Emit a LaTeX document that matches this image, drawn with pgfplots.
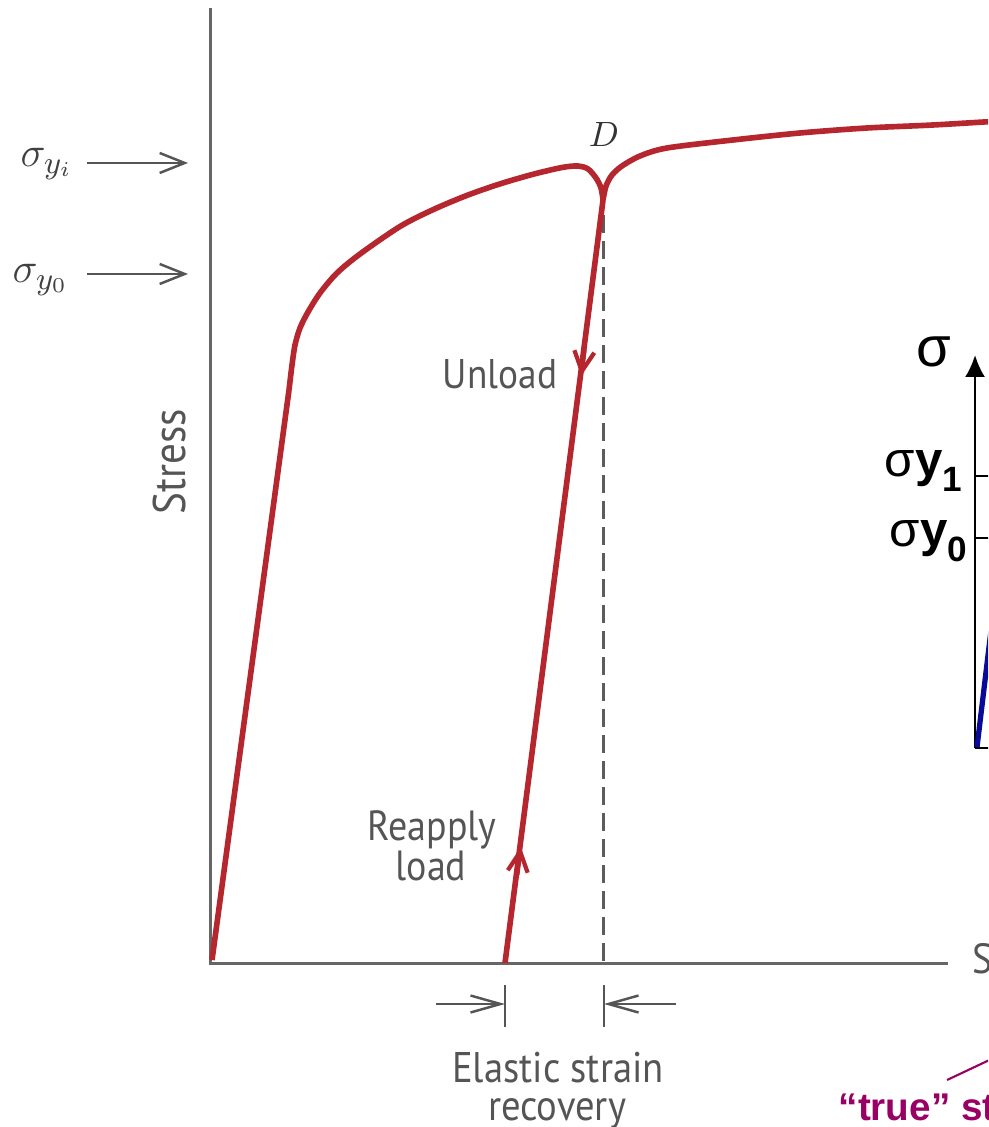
\documentclass[border=0pt]{standalone}
\usepackage{pgfplots}
\pgfplotsset{compat=1.18}
\usepackage{fontspec}
\setmainfont[FakeStretch=0.9]{PT Sans}
\newfontfamily\insetfont{Liberation Sans}
\usetikzlibrary{arrows.meta}

\definecolor{curvered}{HTML}{B5262E}
\definecolor{labgray}{HTML}{555555}
\definecolor{axgray}{HTML}{666666}
\definecolor{trueblue}{HTML}{0A0A99}
\definecolor{truepurple}{HTML}{990066}

\begin{document}
\begin{tikzpicture}
\useasboundingbox (0,0) rectangle (9.88,11.27);
\clip (0,0) rectangle (9.88,11.27);
\begin{axis}[
    at={(0,0)}, anchor=south west,
    scale only axis, width=9.88cm, height=11.27cm,
    xmin=0, xmax=988, ymin=0, ymax=1127,
    y dir=reverse,
    axis lines=none,
    clip=false,
]

% main axes
\addplot[axgray, line width=0.85pt] coordinates {(210,8)(210,963)(948,963)};

% elastic strain recovery (dashed)
\addplot[axgray!90!black, line width=0.85pt, dash pattern=on 0.18cm off 0.08cm]
    coordinates {(603,215)(603,963)};

% first loading: elastic part
\addplot[curvered, line width=1.6pt] coordinates {(212,960)(289,390)};
% first loading: plastic part up to D
\addplot[curvered, line width=1.6pt, smooth, tension=0.5] coordinates {
    (289,390)(292,365)(295,345)(300,328)(308,312)(320,293)(337,273)
    (360,254)(400,226.5)(433,209.7)(467,195.4)(500,183.9)(533,174.3)
    (562,167.5)(578,166)(588,169)(596,178)(601,188)(603,200)
};
% reloading past D
\addplot[curvered, line width=1.6pt, smooth, tension=0.5] coordinates {
    (603,200)(606,186)(612,175)(622,166)(640,156)(667,148)(733,140)
    (800,133)(867,128)(933,125)(1000,121)
};
% unload / reapply line
\addplot[curvered, line width=1.6pt] coordinates {(603,200)(505,963)};
\addplot[curvered, line width=1.2pt, -{Straight Barb[length=0.2cm,width=0.2cm]}]
    coordinates {(584.5,350)(581.2,376)};
\addplot[curvered, line width=1.2pt, -{Straight Barb[length=0.2cm,width=0.2cm]}]
    coordinates {(517.3,875)(520.8,847)};

% yield stress arrows
\addplot[labgray, line width=0.7pt, -{Straight Barb[length=0.25cm,width=0.2cm]}]
    coordinates {(87,163)(188,163)};
\addplot[labgray, line width=0.7pt, -{Straight Barb[length=0.25cm,width=0.2cm]}]
    coordinates {(87,274)(188,274)};

% elastic strain recovery markers
\addplot[labgray, line width=0.7pt] coordinates {(505,985)(505,1027)};
\addplot[labgray, line width=0.7pt] coordinates {(604,985)(604,1027)};
\addplot[labgray, line width=0.7pt, -{Straight Barb[length=0.3cm,width=0.17cm]}]
    coordinates {(436,1004)(505,1004)};
\addplot[labgray, line width=0.7pt, -{Straight Barb[length=0.3cm,width=0.17cm]}]
    coordinates {(676,1004)(604,1004)};

% inset diagram (cut off at right edge)
\addplot[black, line width=0.7pt, -{Latex[length=0.22cm,width=0.2cm]}]
    coordinates {(975,748)(975,355)};
\addplot[black, line width=0.6pt] coordinates {(975,476)(992,476)};
\addplot[black, line width=0.6pt] coordinates {(975,538)(992,538)};
\addplot[black, line width=0.6pt] coordinates {(975,748)(992,748)};
\addplot[trueblue, line width=1.5pt] coordinates {(977,747)(1000,555)};
\addplot[truepurple, line width=0.6pt] coordinates {(947,1080)(1000,1055)};

% labels
\node[labgray, anchor=base, font=\fontsize{11.8}{14}\selectfont] at (axis cs:500,389) {Unload};
\node[labgray, anchor=base, font=\fontsize{12}{14}\selectfont] at (axis cs:432,840) {Reapply};
\node[labgray, anchor=base, font=\fontsize{12}{14}\selectfont] at (axis cs:431,880) {load};
\node[labgray, anchor=base, font=\fontsize{12.2}{14}\selectfont] at (axis cs:558,1082) {Elastic strain};
\node[labgray, anchor=base, font=\fontsize{12.2}{14}\selectfont] at (axis cs:557,1120) {recovery};
\node[labgray, anchor=base, rotate=90, font=\fontsize{13}{15}\selectfont] at (axis cs:185,462) {Stress};
\node[labgray, anchor=base west, inner sep=0pt, font=\fontsize{12}{14}\selectfont] at (axis cs:972,973) {Strain};
\node[text=black!80, anchor=base, font=\fontsize{10}{12}\selectfont] at (axis cs:604,147) {$D$};
\node[text=black!75, anchor=base west, inner sep=0pt, font=\fontsize{12.5}{14}\selectfont] at (axis cs:20,167) {$\sigma_{y_i}$};
\node[text=black!75, anchor=base west, inner sep=0pt, font=\fontsize{12.5}{14}\selectfont] at (axis cs:12,283) {$\sigma_{y_0}$};

\node[anchor=base, font=\insetfont\fontsize{16}{18}\selectfont] at (axis cs:934,367) {σ};
\node[anchor=base west, inner sep=0pt, font=\insetfont\fontsize{14}{16}\selectfont] at (axis cs:884,477)
    {σ\textbf{y}\raisebox{-0.3em}{\fontsize{10}{12}\selectfont\textbf{1}}};
\node[anchor=base west, inner sep=0pt, font=\insetfont\fontsize{14}{16}\selectfont] at (axis cs:889,547)
    {σ\textbf{y}\raisebox{-0.3em}{\fontsize{10}{12}\selectfont\textbf{0}}};
\node[text=truepurple, anchor=base west, inner sep=0pt, font=\insetfont\bfseries\fontsize{11}{13}\selectfont]
    at (axis cs:838,1120) {“true” strain};

\end{axis}
\end{tikzpicture}
\end{document}
